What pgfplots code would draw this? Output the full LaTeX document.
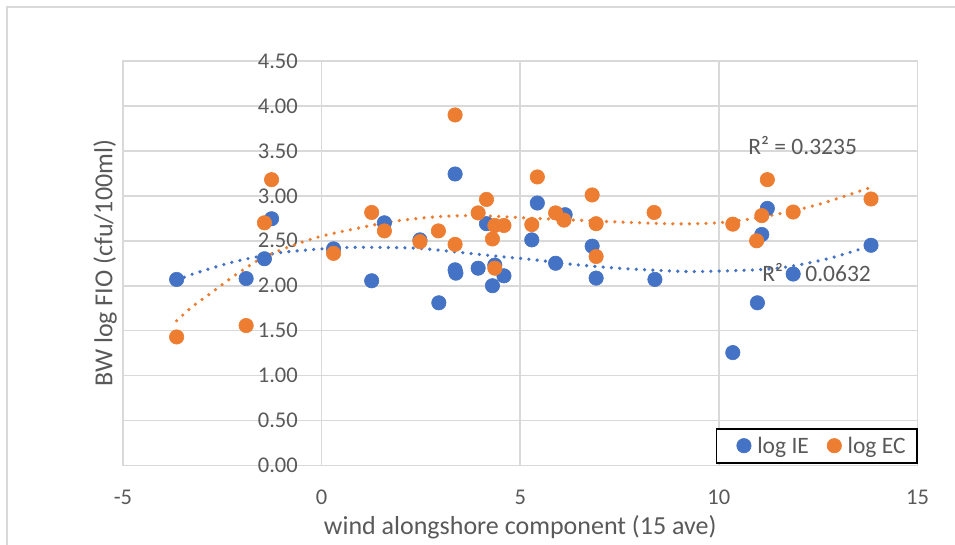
\documentclass[border=0pt]{standalone}
\usepackage{fontspec}
\setmainfont{Carlito}
\usepackage{pgfplots}
\pgfplotsset{compat=1.18}
\definecolor{ieblue}{HTML}{4472C4}
\definecolor{ecorange}{HTML}{ED7D31}
\definecolor{gridgray}{HTML}{D9D9D9}
\definecolor{textgray}{HTML}{595959}
\pgfplotsset{mylegimg/.style={legend image code/.code={\path (0pt,0pt) (23pt,0pt); \draw[##1] plot coordinates {(15.5pt,0pt)};}}}
\begin{document}
\begin{tikzpicture}[x=1pt,y=1pt]
\path[use as bounding box] (-123,-78.5) rectangle (832,465.5);
\draw[gridgray, line width=1.6pt] (-116,-90) -- (-116,458.5) -- (850,458.5);
\begin{axis}[
  at={(0,0)}, anchor=south west,
  scale only axis, width=794.5pt, height=404.5pt,
  xmin=-5, xmax=15, ymin=0, ymax=4.5,
  xtick={-5,0,5,10,15}, xticklabels={-5,0,5,10,15},
  ytick={0,0.5,1,1.5,2,2.5,3,3.5,4,4.5},
  yticklabels={0.00,0.50,1.00,1.50,2.00,2.50,3.00,3.50,4.00,4.50},
  major tick length=0pt,
  grid=major, major grid style={gridgray, line width=1.6pt},
  axis line style={gridgray, line width=1.6pt},
  tick label style={font=\fontsize{22.5}{27}\selectfont, text=textgray, inner sep=0pt},
  xticklabel style={yshift=-24pt},
  yticklabel style={xshift=175pt},
  xlabel={wind alongshore component (15 ave)},
  ylabel={BW log FIO (cfu/100ml)},
  label style={font=\fontsize{26}{31}\selectfont, text=textgray},
  xlabel style={at={(axis description cs:0.5,-0.152)}, anchor=center},
  ylabel style={at={(axis description cs:-0.02266,0.5)}, anchor=center},
  legend columns=2,
  legend style={at={(rel axis cs:1,0)}, anchor=south east, yshift=2pt,
    draw=black, line width=1.8pt, fill=white,
    font=\fontsize{23.5}{28}\selectfont, text=textgray,
    inner xsep=11pt, inner ysep=8pt, nodes={inner sep=0pt},
    column sep=5pt, /tikz/every even column/.append style={column sep=9pt}},
]
\addplot[ieblue, only marks, mark=*, mark size=7.2pt,
  mark options={draw=ieblue, fill=ieblue, line width=0.6pt}, mylegimg] coordinates {
(-3.65,2.07) (-1.90,2.08) (-1.44,2.30) (-1.26,2.745) (0.30,2.41) (1.26,2.055)
(1.58,2.70) (2.475,2.51) (2.95,1.81) (3.36,3.243) (3.36,2.177) (3.38,2.14)
(3.94,2.195) (4.15,2.69) (4.30,2.00) (4.36,2.23) (4.59,2.11) (5.29,2.51)
(5.43,2.92) (5.89,2.25) (6.13,2.79) (6.81,2.44) (6.91,2.085) (8.39,2.07)
(10.35,1.256) (10.97,1.81) (11.08,2.57) (11.22,2.86) (11.87,2.13) (13.83,2.45)
};
\addlegendentry{log IE}
\addplot[ecorange, only marks, mark=*, mark size=7.2pt,
  mark options={draw=ecorange, fill=ecorange, line width=0.6pt}, mylegimg] coordinates {
(-3.65,1.43) (-1.90,1.557) (-1.44,2.70) (-1.26,3.18) (0.30,2.36) (1.26,2.815)
(1.58,2.61) (2.475,2.49) (2.94,2.61) (3.36,3.90) (3.36,2.46) (3.94,2.81)
(4.15,2.96) (4.30,2.52) (4.36,2.67) (4.36,2.195) (4.59,2.67) (5.29,2.68)
(5.43,3.21) (5.89,2.81) (6.10,2.73) (6.81,3.01) (6.91,2.69) (6.91,2.325)
(8.37,2.815) (10.35,2.685) (10.95,2.50) (11.08,2.78) (11.22,3.18) (11.87,2.82)
(13.83,2.965)
};
\addlegendentry{log EC}
\addplot[forget plot, ieblue, line width=3.6pt, line cap=round, dash pattern=on 0pt off 8.3pt, smooth] coordinates {
(-3.65,2.06) (-3.31,2.12) (-2.81,2.19) (-2.39,2.245) (-1.97,2.29) (-1.13,2.363)
(-0.29,2.40) (0.63,2.425) (1.64,2.425) (2.475,2.415) (3.65,2.363) (4.49,2.325)
(5.33,2.29) (6.17,2.244) (7.43,2.196) (8.69,2.166) (9.44,2.158) (10.95,2.177)
(11.79,2.214) (12.80,2.307) (13.80,2.44)
};
\addplot[forget plot, ecorange, line width=3.6pt, line cap=round, dash pattern=on 0pt off 8.3pt, smooth] coordinates {
(-3.65,1.61) (-3.23,1.776) (-2.81,1.91) (-2.39,2.05) (-1.97,2.18) (-1.55,2.296)
(-1.13,2.38) (-0.46,2.49) (0.04,2.556) (0.80,2.63) (1.80,2.715) (2.81,2.764)
(3.65,2.78) (4.49,2.77) (5.33,2.75) (6.17,2.734) (7.43,2.71) (8.69,2.69)
(9.44,2.69) (10.11,2.705) (10.95,2.753) (11.79,2.826) (12.63,2.92) (13.80,3.09)
};
\node[font=\fontsize{23.5}{28}\selectfont, text=textgray, anchor=center] at (axis cs:12.11,3.56) {R² = 0.3235};
\node[font=\fontsize{23.5}{28}\selectfont, text=textgray, anchor=center] at (axis cs:12.46,2.147) {R² = 0.0632};
\end{axis}
\end{tikzpicture}
\end{document}
